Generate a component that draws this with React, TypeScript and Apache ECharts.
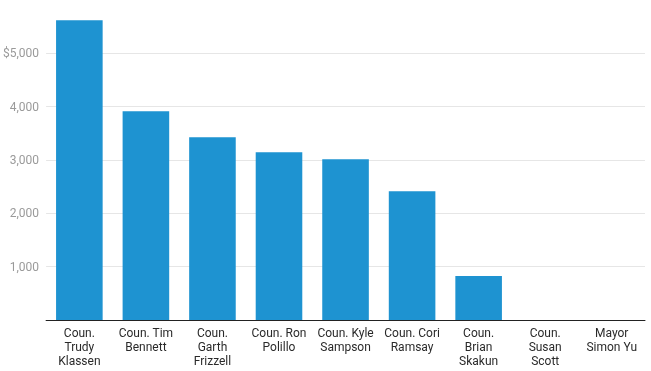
import React, { useEffect, useRef } from "react";
import * as echarts from "echarts";

const categories = [
  "Coun.\nTrudy\nKlassen",
  "Coun. Tim\nBennett",
  "Coun.\nGarth\nFrizzell",
  "Coun. Ron\nPolillo",
  "Coun. Kyle\nSampson",
  "Coun. Cori\nRamsay",
  "Coun.\nBrian\nSkakun",
  "Coun.\nSusan\nScott",
  "Mayor\nSimon Yu",
];
const values = [5620, 3915, 3425, 3145, 3015, 2415, 825, 0, 0];
const yTicks = [0, 1000, 2000, 3000, 4000, 5000, 6000];

export default function App() {
  const ref = useRef<HTMLDivElement>(null);
  useEffect(() => {
    if (!ref.current) return;
    const chart = echarts.init(ref.current, undefined, { renderer: "svg" });
    chart.setOption({
      animation: false,
      grid: { left: 44, right: 6, top: 0, bottom: 51, containLabel: false },
      xAxis: {
        type: "category",
        data: categories,
        axisLine: { lineStyle: { color: "#222", width: 1 } },
        axisTick: { show: false },
        axisLabel: {
          interval: 0,
          color: "#2a2a2a",
          fontFamily: "Roboto",
          fontSize: 12,
          lineHeight: 14,
          margin: 6,
          align: "center",
        },
      },
      yAxis: {
        type: "value",
        min: yTicks[0],
        max: yTicks[yTicks.length - 1],
        interval: 1000,
        axisLine: { show: false },
        axisTick: { show: false },
        splitLine: { showMaxLine: false, lineStyle: { color: "#e6e6e6", width: 1 } },
        axisLabel: {
          color: "#9a9a9a",
          fontFamily: "Roboto",
          fontSize: 12,
          margin: 7,
          formatter: (v: number) => {
            if (v === 0 || v === 6000) return "";
            const s = v.toLocaleString("en-US");
            return v === 5000 ? "$" + s : s;
          },
        },
      },
      series: [
        {
          type: "bar",
          data: values,
          barWidth: "70%",
          itemStyle: { color: "#1E93D1" },
        },
      ],
    });
    return () => chart.dispose();
  }, []);
  return (
    <div
      ref={ref}
      style={{ position: "fixed", left: 0, top: 0, width: 651, height: 371 }}
    />
  );
}
